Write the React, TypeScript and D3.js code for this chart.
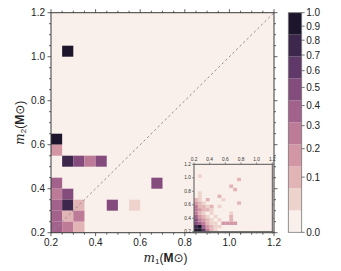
import React from "react";
import * as d3 from "d3";

// ---------- data ----------
const ticks = [0.2, 0.4, 0.6, 0.8, 1.0, 1.2];
const minorTicks = d3.range(0.2, 1.2001, 0.05);
const cbTicks = [0.0, 0.1, 0.2, 0.3, 0.4, 0.5, 0.6, 0.7, 0.8, 0.9, 1.0];
const binSize = 0.05;

// main histogram cells: bin start m1, bin start m2, normalised value
const mainM1 = [0.25, 0.2, 0.2, 0.25, 0.3, 0.35, 0.4, 0.2, 0.65, 0.2, 0.25, 0.2, 0.25, 0.3, 0.45, 0.55, 0.2, 0.25, 0.3, 0.2, 0.25, 0.3];
const mainM2 = [1.0, 0.6, 0.55, 0.5, 0.5, 0.5, 0.5, 0.4, 0.4, 0.35, 0.35, 0.3, 0.3, 0.3, 0.3, 0.3, 0.25, 0.25, 0.25, 0.2, 0.2, 0.2];
const mainVal = [1.0, 1.0, 0.18, 0.7, 0.55, 0.22, 0.48, 0.38, 0.48, 0.3, 0.48, 0.38, 0.75, 0.1, 0.48, 0.04, 0.38, 0.12, 0.22, 0.32, 0.25, 0.12];

// inset histogram cells
const insetM1 = [
  0.2, 0.25, 0.3, 0.35, 0.4, 0.45,
  0.2, 0.25, 0.3, 0.35, 0.4, 0.45, 0.5,
  0.2, 0.25, 0.3, 0.35, 0.4, 0.45, 0.55, 0.6, 0.65, 0.7,
  0.2, 0.25, 0.3, 0.35, 0.4, 0.5, 0.65,
  0.2, 0.25, 0.3, 0.35, 0.45, 0.65,
  0.2, 0.25, 0.3, 0.4, 0.65,
  0.2, 0.25, 0.3, 0.35, 0.4,
  0.2, 0.25, 0.3, 0.35, 0.4, 0.5,
  0.2, 0.25, 0.3, 0.75,
  0.2, 0.25, 0.35, 0.55,
  0.25, 0.5,
  0.25,
  0.7,
  0.65,
  0.75,
  0.25,
];
const insetM2 = [
  0.2, 0.2, 0.2, 0.2, 0.2, 0.2,
  0.25, 0.25, 0.25, 0.25, 0.25, 0.25, 0.25,
  0.3, 0.3, 0.3, 0.3, 0.3, 0.3, 0.3, 0.3, 0.3, 0.3,
  0.35, 0.35, 0.35, 0.35, 0.35, 0.35, 0.35,
  0.4, 0.4, 0.4, 0.4, 0.4, 0.4,
  0.45, 0.45, 0.45, 0.45, 0.45,
  0.5, 0.5, 0.5, 0.5, 0.5,
  0.55, 0.55, 0.55, 0.55, 0.55, 0.55,
  0.6, 0.6, 0.6, 0.6,
  0.65, 0.65, 0.65, 0.65,
  0.7, 0.7,
  0.75,
  0.8,
  0.85,
  0.95,
  1.0,
];
const insetVal = [
  1.0, 1.0, 0.6, 0.3, 0.12, 0.06,
  0.8, 0.9, 0.4, 0.2, 0.1, 0.06, 0.04,
  0.55, 0.4, 0.25, 0.12, 0.06, 0.04, 0.2, 0.2, 0.2, 0.15,
  0.45, 0.25, 0.15, 0.08, 0.04, 0.05, 0.08,
  0.4, 0.2, 0.1, 0.06, 0.04, 0.08,
  0.25, 0.12, 0.06, 0.04, 0.05,
  0.22, 0.18, 0.12, 0.08, 0.04,
  0.25, 0.12, 0.1, 0.04, 0.08, 0.05,
  0.18, 0.08, 0.04, 0.08,
  0.08, 0.04, 0.12, 0.05,
  0.04, 0.1,
  0.04,
  0.08,
  0.08,
  0.1,
  0.05,
];

// ---------- colours (seaborn-like cubehelix palette, 10 levels) ----------
function cubehelix(x: number): string {
  const start = 0, rot = 0.4, hue = 0.8, gamma = 1;
  const xg = Math.pow(x, gamma);
  const a = (hue * xg * (1 - xg)) / 2;
  const phi = 2 * Math.PI * (start / 3 + rot * x);
  const c = Math.cos(phi), s = Math.sin(phi);
  const cl = (v: number) => Math.round(Math.max(0, Math.min(1, v)) * 255);
  const r = xg + a * (-0.14861 * c + 1.78277 * s);
  const g = xg + a * (-0.29227 * c - 0.90649 * s);
  const b = xg + a * (1.97294 * c);
  return d3.rgb(cl(r), cl(g), cl(b)).formatHex();
}
const light = 0.95, dark = 0.1;
const palette = d3.range(10).map((k) => cubehelix(light + ((dark - light) * k) / 9));
const gammaNorm = 0.6;
const colorQ = d3.scaleQuantize<string>().domain([0, 1]).range(palette);
const colorOf = (v: number) => colorQ(Math.min(0.9999, Math.pow(v, gammaNorm)));

// ---------- layout ----------
const W = 341, H = 271;
const PL = 51, PR = 274, PT = 12.7, PB = 232.7;
const IL = 194, IR = 272.3, IT = 164.3, IB = 231.7;
const CBL = 288.3, CBR = 301.7, CBT = 12.7, CBB = 232.3;
const FONT = "'Liberation Sans', Arial, Helvetica, sans-serif";
const AX = "#3a3a3a";

export default function App() {
  const x = d3.scaleLinear().domain([0.2, 1.2]).range([PL, PR]);
  const y = d3.scaleLinear().domain([0.2, 1.2]).range([PB, PT]);
  const ix = d3.scaleLinear().domain([0.2, 1.2]).range([IL, IR]);
  const iy = d3.scaleLinear().domain([0.2, 1.2]).range([IB, IT]);
  const cb = d3.scalePow().exponent(gammaNorm).domain([0, 1]).range([CBB, CBT]);
  const cbLin = d3.scaleLinear().domain([0, 10]).range([CBB, CBT]);

  const isMajor = (t: number) => ticks.some((m) => Math.abs(m - t) < 1e-6);

  return (
    <svg width={W} height={H} style={{ position: "absolute", left: 0, top: 0, background: "#fff" }} fontFamily={FONT}>
      {/* main background */}
      <rect x={PL} y={PT} width={PR - PL} height={PB - PT} fill={palette[0]} />
      {/* main cells */}
      {mainVal.map((v, i) => (
        <rect
          key={"m" + i}
          x={x(mainM1[i])}
          y={y(mainM2[i] + binSize)}
          width={x(mainM1[i] + binSize) - x(mainM1[i])}
          height={y(mainM2[i]) - y(mainM2[i] + binSize)}
          fill={colorOf(v)}
        />
      ))}
      {/* diagonal */}
      <line x1={x(0.2)} y1={y(0.2)} x2={x(1.2)} y2={y(1.2)} stroke="#948c8e" strokeWidth={1} strokeDasharray="2.4,2.6" />
      {/* main frame */}
      <rect x={PL} y={PT} width={PR - PL} height={PB - PT} fill="none" stroke={AX} strokeWidth={1} />
      {/* minor/major ticks all sides, outward */}
      {minorTicks.map((t, i) => {
        const len = isMajor(t) ? 3.5 : 2;
        return (
          <g key={"t" + i} stroke={AX} strokeWidth={0.8}>
            <line x1={x(t)} x2={x(t)} y1={PB} y2={PB + len} />
            <line x1={x(t)} x2={x(t)} y1={PT} y2={PT - len} />
            <line y1={y(t)} y2={y(t)} x1={PL} x2={PL - len} />
            <line y1={y(t)} y2={y(t)} x1={PR} x2={PR + len} />
          </g>
        );
      })}
      {ticks.map((t) => (
        <text key={"xl" + t} x={x(t)} y={PB + 13} fontSize={10} textAnchor="middle" fill="#222">
          {t.toFixed(1)}
        </text>
      ))}
      {ticks.map((t) => (
        <text key={"yl" + t} x={PL - 6} y={y(t) + 3.5} fontSize={10} textAnchor="end" fill="#222">
          {t.toFixed(1)}
        </text>
      ))}
      {/* axis labels */}
      <text x={(PL + PR) / 2 + 3} y={262} fontSize={12} textAnchor="middle" fill="#222">
        <tspan fontFamily="'DejaVu Serif', serif" fontStyle="italic">m</tspan>
        <tspan fontSize={8} dy={2}>1</tspan>
        <tspan dy={-2}>(</tspan>
        <tspan fontWeight="bold">M</tspan>
        <tspan fontFamily="'DejaVu Sans', sans-serif">⊙</tspan>
        <tspan>)</tspan>
      </text>
      <text transform={`translate(24,${(PT + PB) / 2}) rotate(-90)`} fontSize={12} textAnchor="middle" fill="#222">
        <tspan fontFamily="'DejaVu Serif', serif" fontStyle="italic">m</tspan>
        <tspan fontSize={8} dy={2}>2</tspan>
        <tspan dy={-2}>(</tspan>
        <tspan fontWeight="bold">M</tspan>
        <tspan fontFamily="'DejaVu Sans', sans-serif">⊙</tspan>
        <tspan>)</tspan>
      </text>

      {/* inset */}
      <rect x={IL} y={IT} width={IR - IL} height={IB - IT} fill={palette[0]} />
      {insetVal.map((v, i) => (
        <rect
          key={"i" + i}
          x={ix(insetM1[i])}
          y={iy(insetM2[i] + binSize)}
          width={ix(insetM1[i] + binSize) - ix(insetM1[i])}
          height={iy(insetM2[i]) - iy(insetM2[i] + binSize)}
          fill={colorOf(v)}
        />
      ))}
      <rect x={IL} y={IT} width={IR - IL} height={IB - IT} fill="none" stroke="#555" strokeWidth={1} />
      {ticks.map((t) => (
        <g key={"it" + t} stroke="#555" strokeWidth={0.6}>
          <line x1={ix(t)} x2={ix(t)} y1={IT} y2={IT - 2} />
          <line x1={ix(t)} x2={ix(t)} y1={IB} y2={IB + 2} />
          <line y1={iy(t)} y2={iy(t)} x1={IL} x2={IL - 2} />
          <line y1={iy(t)} y2={iy(t)} x1={IR} x2={IR + 2} />
        </g>
      ))}
      {ticks.map((t) => (
        <text key={"ixl" + t} x={ix(t)} y={IT - 3.5} fontSize={4.8} textAnchor="middle" fill="#333">
          {t.toFixed(1)}
        </text>
      ))}
      {ticks.map((t) => (
        <text key={"iyl" + t} x={IL - 3} y={iy(t) + 1.7} fontSize={4.8} textAnchor="end" fill="#333">
          {t.toFixed(1)}
        </text>
      ))}

      {/* colorbar */}
      {palette.map((c, k) => (
        <rect key={"cb" + k} x={CBL} y={cbLin(k + 1)} width={CBR - CBL} height={cbLin(k) - cbLin(k + 1)} fill={c} />
      ))}
      <rect x={CBL} y={CBT} width={CBR - CBL} height={CBB - CBT} fill="none" stroke="#777" strokeWidth={0.8} />
      {cbTicks.map((t) => (
        <g key={"cbt" + t}>
          <line x1={CBR} x2={CBR + 3} y1={cb(t)} y2={cb(t)} stroke="#555" strokeWidth={0.8} />
          <text x={CBR + 4.5} y={cb(t) + 3.5} fontSize={10} fill="#222">
            {t.toFixed(1)}
          </text>
        </g>
      ))}
    </svg>
  );
}
